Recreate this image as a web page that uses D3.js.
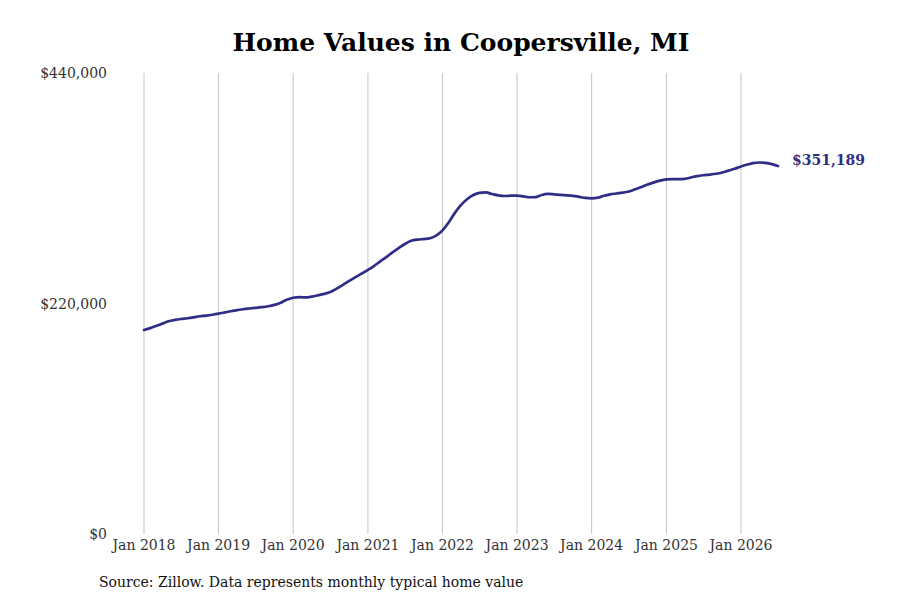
<!DOCTYPE html>
<html>
<head>
<meta charset="utf-8">
<script src="https://cdn.jsdelivr.net/npm/d3@7"></script>
<style>
  body { margin: 0; background: #fff; }
  svg { font-family: "DejaVu Serif", serif; }
</style>
</head>
<body>
<svg id="chart"></svg>
<script>
// monthly typical home value, thousands of dollars, Jan 2018 .. Jul 2026
const startMonth = "2018-01";
const values = [
  194.7, 196.5, 198.6, 200.8, 203.0, 204.3, 205.2, 205.9, 206.8, 207.8, 208.5, 209.3,
  210.3, 211.5, 212.6, 213.6, 214.5, 215.2, 215.8, 216.5, 217.4, 218.7, 220.8, 223.6,
  225.5, 226.0, 225.8, 226.6, 227.8, 229.2, 231.0, 234.2, 237.8, 241.5, 245.2, 248.5,
  252.0, 256.0, 260.0, 264.2, 268.8, 273.0, 276.8, 279.8, 281.0, 281.5, 282.3, 284.8,
  289.8, 297.5, 306.0, 313.8, 319.5, 323.5, 325.6, 326.0, 324.5, 323.2, 322.6, 322.9,
  323.0, 322.3, 321.4, 321.6, 323.6, 324.6, 324.2, 323.6, 323.2, 322.7, 321.8, 320.8,
  320.4, 321.0, 322.8, 324.2, 325.0, 325.8, 326.9, 329.0, 331.2, 333.6, 335.6, 337.3,
  338.4, 338.8, 338.8, 339.0, 340.3, 341.6, 342.4, 343.0, 343.8, 345.0, 346.8, 348.6,
  350.8, 352.6, 354.0, 354.6, 354.2, 353.0, 351.189
];
const yTicks = [0, 220000, 440000];
const xTickYears = [2018, 2019, 2020, 2021, 2022, 2023, 2024, 2025, 2026];
const title = "Home Values in Coopersville, MI";
const source = "Source: Zillow. Data represents monthly typical home value";

const width = 900, height = 600;
const margin = {top: 73, right: 122, bottom: 66, left: 144};

const parse = d3.timeParse("%Y-%m");
const t0 = parse(startMonth);
const data = values.map((v, i) => ({ date: d3.timeMonth.offset(t0, i), value: v * 1000 }));

const svg = d3.select("#chart").attr("width", width).attr("height", height);

const x = d3.scaleTime()
  .domain([t0, new Date(2026, 0, 1)])
  .range([margin.left, 741]);
const y = d3.scaleLinear()
  .domain([0, 440000])
  .range([height - margin.bottom, margin.top]);

// vertical gridlines
svg.append("g")
  .selectAll("line")
  .data(xTickYears)
  .join("line")
  .attr("x1", d => x(new Date(d, 0, 1)))
  .attr("x2", d => x(new Date(d, 0, 1)))
  .attr("y1", y(440000))
  .attr("y2", y(0))
  .attr("stroke", "#c4c4c4")
  .attr("stroke-width", 1);

// x labels
svg.append("g")
  .selectAll("text")
  .data(xTickYears)
  .join("text")
  .attr("x", d => x(new Date(d, 0, 1)))
  .attr("y", y(0) + 16)
  .attr("text-anchor", "middle")
  .attr("font-size", 14)
  .attr("fill", "#333")
  .text(d => "Jan " + d);

// y labels
const fmt = d3.format("$,.0f");
svg.append("g")
  .selectAll("text")
  .data(yTicks)
  .join("text")
  .attr("x", 107)
  .attr("y", d => y(d) + 5)
  .attr("text-anchor", "end")
  .attr("font-size", 14)
  .attr("fill", "#333")
  .text(d => fmt(d));

// line
const line = d3.line()
  .x(d => x(d.date))
  .y(d => y(d.value))
  .curve(d3.curveMonotoneX);

svg.append("path")
  .datum(data)
  .attr("d", line)
  .attr("fill", "none")
  .attr("stroke", "#2f2d86")
  .attr("stroke-width", 2.7)
  .attr("stroke-linecap", "round");

// end label
const last = data[data.length - 1];
svg.append("text")
  .attr("x", x(last.date) + 14)
  .attr("y", y(last.value) - 1)
  .attr("font-size", 14)
  .attr("font-weight", "bold")
  .attr("fill", "#2f2d86")
  .text(fmt(last.value));

// title
svg.append("text")
  .attr("x", 461)
  .attr("y", 51)
  .attr("text-anchor", "middle")
  .attr("font-size", 25)
  .attr("font-weight", "bold")
  .attr("fill", "#000")
  .text(title);

// source
svg.append("text")
  .attr("x", 99)
  .attr("y", 587)
  .attr("font-size", 14)
  .attr("fill", "#111")
  .text(source);
</script>
</body>
</html>
